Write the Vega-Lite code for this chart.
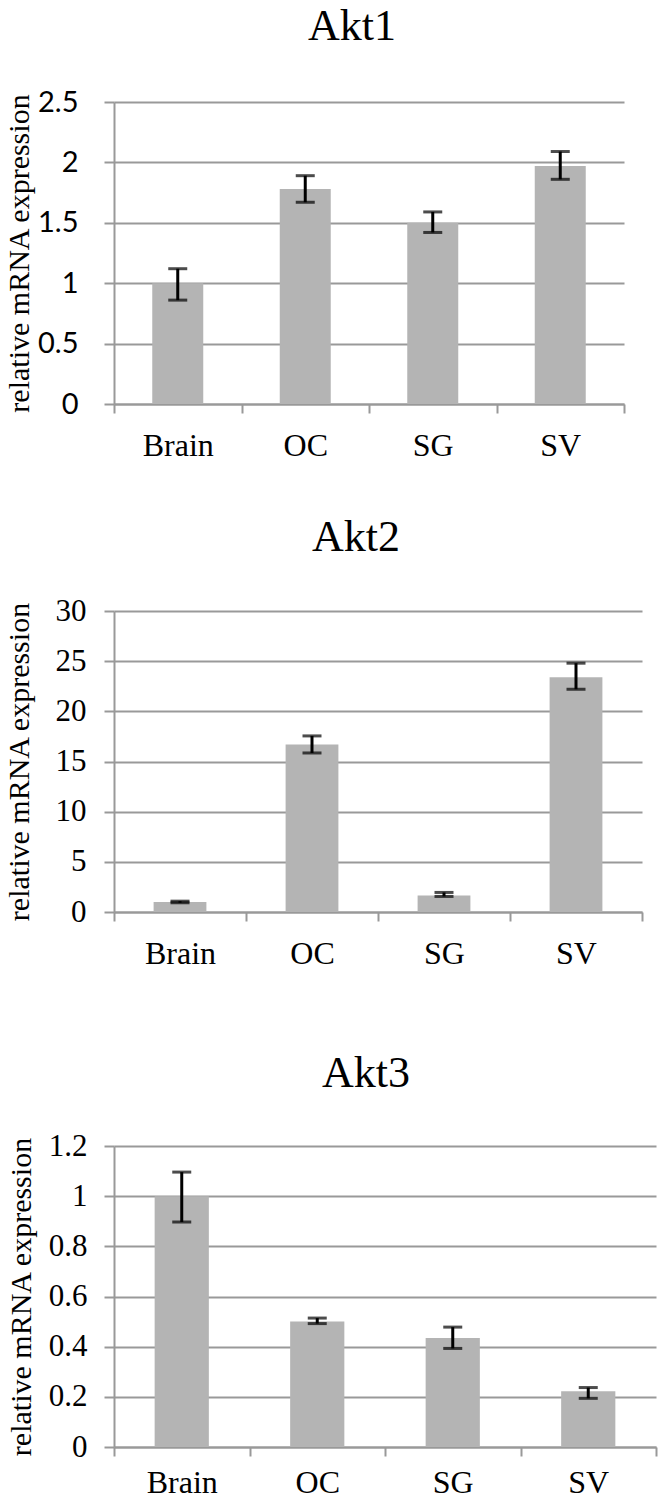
{
  "$schema": "https://vega.github.io/schema/vega-lite/v6.json",
  "background": "white",
  "padding": {"left": 3, "right": 1, "top": 5, "bottom": 0},
  "config": {
    "view": {"stroke": null},
    "font": "Liberation Serif",
    "title": {"font": "Liberation Serif", "fontSize": 44, "fontWeight": "normal", "color": "black", "anchor": "middle"},
    "axis": {"domainColor": "#999999", "domainWidth": 2, "tickColor": "#999999", "tickWidth": 2, "gridColor": "#999999", "gridWidth": 2, "labelColor": "black", "titleColor": "black", "titleFont": "Liberation Serif", "titleFontWeight": "normal", "titleFontSize": 30}
  },
  "datasets": {
    "expr": [
      {"gene": "Akt1", "tissue": "Brain", "value": 1.0, "lo": 0.86, "hi": 1.12},
      {"gene": "Akt1", "tissue": "OC", "value": 1.78, "lo": 1.67, "hi": 1.89},
      {"gene": "Akt1", "tissue": "SG", "value": 1.5, "lo": 1.42, "hi": 1.59},
      {"gene": "Akt1", "tissue": "SV", "value": 1.97, "lo": 1.86, "hi": 2.09},
      {"gene": "Akt2", "tissue": "Brain", "value": 1.0, "lo": 0.92, "hi": 1.08},
      {"gene": "Akt2", "tissue": "OC", "value": 16.7, "lo": 15.85, "hi": 17.55},
      {"gene": "Akt2", "tissue": "SG", "value": 1.65, "lo": 1.55, "hi": 1.95},
      {"gene": "Akt2", "tissue": "SV", "value": 23.4, "lo": 22.2, "hi": 24.8},
      {"gene": "Akt3", "tissue": "Brain", "value": 1.0, "lo": 0.897, "hi": 1.096},
      {"gene": "Akt3", "tissue": "OC", "value": 0.5, "lo": 0.492, "hi": 0.514},
      {"gene": "Akt3", "tissue": "SG", "value": 0.435, "lo": 0.393, "hi": 0.478},
      {"gene": "Akt3", "tissue": "SV", "value": 0.222, "lo": 0.194, "hi": 0.237}
    ]
  },
  "spacing": 55,
  "vconcat": [
    {
      "width": 510, "height": 302,
      "title": {"text": "Akt1", "dx": -17, "offset": 39},
      "data": {"name": "expr"},
      "transform": [{"filter": "datum.gene === 'Akt1'"}],
      "encoding": {
        "x": {"field": "tissue", "type": "nominal", "sort": ["Brain", "OC", "SG", "SV"],
          "scale": {"paddingInner": 0, "paddingOuter": 0},
          "axis": {"title": null, "labelAngle": 0, "labelFont": "Liberation Serif", "labelFontSize": 32, "labelPadding": 17, "tickBand": "extent", "tickSize": 9, "grid": false}}
      },
      "layer": [
        {"mark": {"type": "bar", "color": "#b4b4b4", "width": {"band": 0.4}},
          "encoding": {"y": {"field": "value", "type": "quantitative", "scale": {"domain": [0, 2.5], "nice": false},
            "axis": {"title": "relative mRNA expression", "values": [0, 0.5, 1, 1.5, 2, 2.5], "format": "~g", "labelFont": "Lato", "labelFontSize": 29, "labelPadding": 26, "tickSize": 10, "titlePadding": 3, "grid": true}}}},
        {"mark": {"type": "errorbar", "ticks": {"size": 19, "thickness": 3, "color": "black"}, "rule": {"strokeWidth": 3, "color": "black"}},
          "encoding": {"y": {"field": "lo", "type": "quantitative", "title": "relative mRNA expression"}, "y2": {"field": "hi"}}}
      ]
    },
    {
      "spacing": 83,
      "vconcat": [
        {
          "width": 528, "height": 301,
          "title": {"text": "Akt2", "dx": -22, "offset": 35},
          "data": {"name": "expr"},
          "transform": [{"filter": "datum.gene === 'Akt2'"}],
          "encoding": {
            "x": {"field": "tissue", "type": "nominal", "sort": ["Brain", "OC", "SG", "SV"],
              "scale": {"paddingInner": 0, "paddingOuter": 0},
              "axis": {"title": null, "labelAngle": 0, "labelFont": "Liberation Serif", "labelFontSize": 32, "labelPadding": 17, "tickBand": "extent", "tickSize": 9, "grid": false}}
          },
          "layer": [
            {"mark": {"type": "bar", "color": "#b4b4b4", "width": {"band": 0.4}},
              "encoding": {"y": {"field": "value", "type": "quantitative", "scale": {"domain": [0, 30], "nice": false},
                "axis": {"title": "relative mRNA expression", "values": [0, 5, 10, 15, 20, 25, 30], "format": "~g", "labelFont": "Liberation Serif", "labelFontSize": 31, "labelPadding": 18, "tickSize": 10, "titlePadding": 21, "grid": true}}}},
            {"mark": {"type": "errorbar", "ticks": {"size": 19, "thickness": 3, "color": "black"}, "rule": {"strokeWidth": 3, "color": "black"}},
              "encoding": {"y": {"field": "lo", "type": "quantitative", "title": "relative mRNA expression"}, "y2": {"field": "hi"}}}
          ]
        },
        {
          "width": 542, "height": 301,
          "title": {"text": "Akt3", "dx": -19, "offset": 34},
          "data": {"name": "expr"},
          "transform": [{"filter": "datum.gene === 'Akt3'"}],
          "encoding": {
            "x": {"field": "tissue", "type": "nominal", "sort": ["Brain", "OC", "SG", "SV"],
              "scale": {"paddingInner": 0, "paddingOuter": 0},
              "axis": {"title": null, "labelAngle": 0, "labelFont": "Liberation Serif", "labelFontSize": 32, "labelPadding": 11, "tickBand": "extent", "tickSize": 9, "grid": false}}
          },
          "layer": [
            {"mark": {"type": "bar", "color": "#b4b4b4", "width": {"band": 0.4}},
              "encoding": {"y": {"field": "value", "type": "quantitative", "scale": {"domain": [0, 1.2], "nice": false},
                "axis": {"title": "relative mRNA expression", "values": [0, 0.2, 0.4, 0.6, 0.8, 1, 1.2], "format": "~g", "labelFont": "Liberation Serif", "labelFontSize": 31, "labelPadding": 17, "tickSize": 10, "titlePadding": 12, "grid": true}}}},
            {"mark": {"type": "errorbar", "ticks": {"size": 19, "thickness": 3, "color": "black"}, "rule": {"strokeWidth": 3, "color": "black"}},
              "encoding": {"y": {"field": "lo", "type": "quantitative", "title": "relative mRNA expression"}, "y2": {"field": "hi"}}}
          ]
        }
      ]
    }
  ]
}
